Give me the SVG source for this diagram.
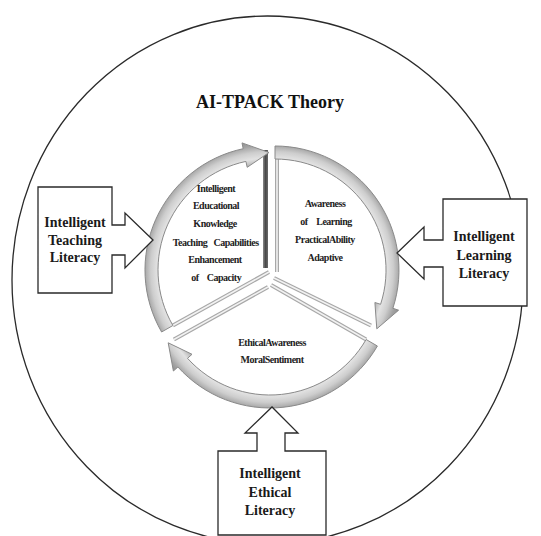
<svg xmlns="http://www.w3.org/2000/svg" width="541" height="536" viewBox="0 0 541 536">
<defs>
<radialGradient id="gL" gradientUnits="userSpaceOnUse" cx="269" cy="270" r="130">
<stop offset="0.80" stop-color="#a9a9a9"/><stop offset="0.86" stop-color="#e2e2e2"/><stop offset="0.91" stop-color="#cdcdcd"/><stop offset="0.96" stop-color="#a3a3a3"/><stop offset="1" stop-color="#8f8f8f"/>
</radialGradient>
<radialGradient id="gR" gradientUnits="userSpaceOnUse" cx="275" cy="270" r="130">
<stop offset="0.80" stop-color="#a9a9a9"/><stop offset="0.86" stop-color="#e2e2e2"/><stop offset="0.91" stop-color="#cdcdcd"/><stop offset="0.96" stop-color="#a3a3a3"/><stop offset="1" stop-color="#8f8f8f"/>
</radialGradient>
<radialGradient id="gB" gradientUnits="userSpaceOnUse" cx="270" cy="284" r="130">
<stop offset="0.80" stop-color="#a9a9a9"/><stop offset="0.86" stop-color="#e2e2e2"/><stop offset="0.91" stop-color="#cdcdcd"/><stop offset="0.96" stop-color="#a3a3a3"/><stop offset="1" stop-color="#8f8f8f"/>
</radialGradient>
<linearGradient id="gBar" x1="0" y1="0" x2="1" y2="0">
<stop offset="0" stop-color="#8a8a8a"/><stop offset="0.5" stop-color="#4a4a4a"/><stop offset="1" stop-color="#6a6a6a"/>
</linearGradient>
</defs>
<style>
.box{fill:#fff;stroke:#2a2a2a;stroke-width:1.3}
.band{stroke:#8a8a8a;stroke-width:1}
.edge{fill:none;stroke:#a8a8a8;stroke-width:4;stroke-linecap:butt}
.edgeIn{fill:none;stroke:#f2f2f2;stroke-width:1.6}
.big{font-family:"Liberation Serif","Times New Roman",serif;font-weight:bold;font-size:14px;fill:#1a1a1a;text-anchor:middle}
.small{font-family:"Liberation Serif","Times New Roman",serif;font-weight:bold;font-size:10px;letter-spacing:-0.5px;fill:#222;text-anchor:middle}
.title{font-family:"Liberation Serif","Times New Roman",serif;font-weight:bold;font-size:18px;fill:#111;text-anchor:middle}
</style>
<rect width="541" height="536" fill="#fff"/>
<ellipse id="outer" cx="267.5" cy="280" rx="255.5" ry="264" fill="none" stroke="#2a2a2a" stroke-width="1.3"/>
<g id="title"><text class="title" x="270" y="108">AI-TPACK Theory</text></g>

<g id="dividers">
<line class="edge" x1="269" y1="272" x2="172.9" y2="325.5"/>
<line class="edgeIn" x1="269" y1="272" x2="172.9" y2="325.5"/>
<line class="edge" x1="277" y1="159" x2="277" y2="272"/>
<line class="edgeIn" x1="277" y1="159" x2="277" y2="272"/>
<line class="edge" x1="274" y1="278" x2="371" y2="325.5"/>
<line class="edgeIn" x1="274" y1="278" x2="371" y2="325.5"/>
<line class="edge" x1="268" y1="287" x2="173.9" y2="339.5"/>
<line class="edgeIn" x1="268" y1="287" x2="173.9" y2="339.5"/>
<line class="edge" x1="271" y1="285" x2="366.1" y2="339.5"/>
<line class="edgeIn" x1="271" y1="285" x2="366.1" y2="339.5"/>
<rect x="263" y="150" width="5" height="118" fill="url(#gBar)"/>
</g>

<g id="sector-teaching">
<path class="band" fill="url(#gL)" d="M161.6,332 A124,124 0 0 1 243.2,148.7 L242,142.9 L269,152.5 L247.2,167.3 L245.9,161.4 A111,111 0 0 0 172.9,325.5 Z"/>
<text class="small" x="216" y="191.5">Intelligent</text>
<text class="small" x="216" y="208.5">Educational</text>
<text class="small" x="215" y="226.5">Knowledge</text>
<text class="small" y="245.5"><tspan x="190" >Teaching</tspan><tspan x="236">Capabilities</tspan></text>
<text class="small" x="215" y="262.5">Enhancement</text>
<text class="small" y="280.5"><tspan x="195">of</tspan><tspan x="224">Capacity</tspan></text>
</g>

<g id="sector-learning">
<path class="band" fill="url(#gR)" d="M275,146 A124,124 0 0 1 392.9,308.3 L398.6,310.2 L376.8,328.8 L374.9,302.5 L380.6,304.3 A111,111 0 0 0 275,159 Z"/>
<text class="small" x="325" y="206.5">Awareness</text>
<text class="small" y="224.5"><tspan x="304">of</tspan><tspan x="334">Learning</tspan></text>
<text class="small" x="325" y="242.5">PracticalAbility</text>
<text class="small" x="325" y="260.5">Adaptive</text>
</g>

<g id="sector-ethical">
<path class="band" fill="url(#gB)" d="M377.4,346 A124,124 0 0 1 177.9,367 L173.4,371 L168.2,342.8 L192,354.3 L187.5,358.3 A111,111 0 0 0 366.1,339.5 Z"/>
<text class="small" x="272" y="345.5">EthicalAwareness</text>
<text class="small" x="272" y="362.5">MoralSentiment</text>
</g>

<g id="box-teaching">
<path class="box" d="M38,187 H112 V225 H125 V213 L153,240 L125,268 V255 H112 V293 H38 Z"/>
<text class="big" x="75" y="227">Intelligent</text>
<text class="big" x="75" y="244.5">Teaching</text>
<text class="big" x="75" y="262">Literacy</text>
</g>

<g id="box-learning">
<path class="box" d="M443,199 H527 V306 H443 V267 H424 V279 L397,253 L424,227 V240 H443 Z"/>
<text class="big" x="484" y="241">Intelligent</text>
<text class="big" x="484" y="259.5">Learning</text>
<text class="big" x="484" y="278">Literacy</text>
</g>

<g id="box-ethical">
<path class="box" d="M218,451 H257 V433 H245 L272,407 L298,433 H285 V451 H326 V535 H218 Z"/>
<text class="big" x="270" y="478">Intelligent</text>
<text class="big" x="270" y="497">Ethical</text>
<text class="big" x="270" y="515">Literacy</text>
</g>
</svg>
